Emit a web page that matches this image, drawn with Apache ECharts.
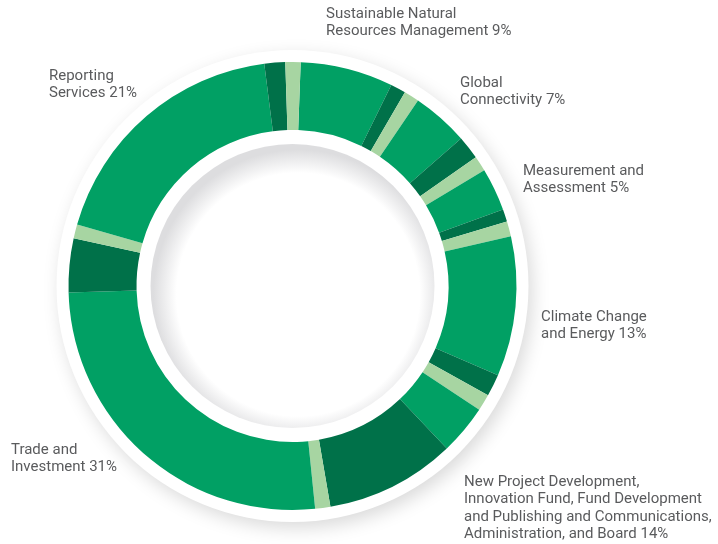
<!DOCTYPE html>
<html>
<head>
<meta charset="utf-8">
<script src="https://cdn.jsdelivr.net/npm/echarts@6/dist/echarts.min.js"></script>
<style>
  html, body { margin: 0; padding: 0; background: #fff; }
  #chart { width: 718px; height: 544px; }
</style>
</head>
<body>
<div id="chart"></div>
<script>
// budget split, clockwise from 12 o'clock
const categories = [
  'Sustainable Natural\nResources Management',
  'Global\nConnectivity',
  'Measurement and\nAssessment',
  'Climate Change\nand Energy',
  'New Project Development,\nInnovation Fund, Fund Development\nand Publishing and Communications,\nAdministration, and Board',
  'Trade and\nInvestment',
  'Reporting\nServices'
];
const shares = [9, 7, 5, 13, 14, 31, 21];
// each share is drawn as a main band, a darker band and a light divider
const mainParts = [6.7, 4.1, 3.1, 10.1, 3.6, 26.2, 18.6];
const darkParts = [1.1, 1.7, 0.9, 1.6, 9.4, 3.9, 1.5];
const gapParts = [1.1, 1.1, 1.1, 1.2, 1.1, 1.0, 1.1];

// where each label block sits (left, top)
const labelPos = [
  [326, 5],
  [460, 74],
  [523, 162],
  [541, 308],
  [464, 473],
  [11, 441],
  [49, 67]
];

const MAIN = '#01a064';
const DARK = '#007149';
const LIGHT = '#a7d5a2';
const CX = 292.5;
const CY = 286;

const ringData = [];
categories.forEach((name, i) => {
  ringData.push({ name, value: mainParts[i], itemStyle: { color: MAIN } });
  ringData.push({ name, value: darkParts[i], itemStyle: { color: DARK } });
  ringData.push({ name, value: gapParts[i], itemStyle: { color: LIGHT } });
});

const chart = echarts.init(document.getElementById('chart'), null, { renderer: 'canvas' });

const option = {
  backgroundColor: '#fff',
  animation: false,
  series: [
    {
      // white halo behind the ring
      type: 'pie',
      silent: true,
      center: [CX, CY],
      radius: [0, 236],
      label: { show: false },
      labelLine: { show: false },
      itemStyle: {
        color: '#fff',
        borderWidth: 0,
        shadowBlur: 18,
        shadowOffsetX: 4,
        shadowOffsetY: 6,
        shadowColor: 'rgba(0,0,0,0.15)'
      },
      data: [1]
    },
    {
      // shaded inner disc
      type: 'pie',
      silent: true,
      center: [CX, CY],
      radius: [0, 142],
      label: { show: false },
      labelLine: { show: false },
      itemStyle: {
        borderWidth: 0,
        color: {
          type: 'radial',
          x: 0.52,
          y: 0.53,
          r: 0.51,
          colorStops: [
            { offset: 0, color: '#ffffff' },
            { offset: 0.84, color: '#ffffff' },
            { offset: 1, color: '#dddddf' }
          ]
        }
      },
      data: [1]
    },
    {
      type: 'pie',
      silent: true,
      center: [CX, CY],
      radius: [156, 224],
      startAngle: 87.9,
      clockwise: true,
      label: { show: false },
      labelLine: { show: false },
      itemStyle: { borderWidth: 0 },
      data: ringData
    },
    {
      // carries the labels only
      type: 'pie',
      silent: true,
      center: [CX, CY],
      radius: [156, 224],
      startAngle: 87.9,
      avoidLabelOverlap: false,
      itemStyle: { color: 'rgba(0,0,0,0)', borderWidth: 0 },
      labelLine: { show: false },
      label: {
        show: true,
        position: 'outside',
        formatter: '{b} {c}%',
        color: '#5a5b5d',
        fontFamily: 'Roboto',
        fontSize: 15,
        lineHeight: 17.5
      },
      labelLayout: (params) => ({
        x: labelPos[params.dataIndex][0],
        y: labelPos[params.dataIndex][1],
        align: 'left',
        verticalAlign: 'top'
      }),
      data: categories.map((name, i) => ({ name, value: shares[i] }))
    }
  ]
};

chart.setOption(option);
</script>
</body>
</html>
